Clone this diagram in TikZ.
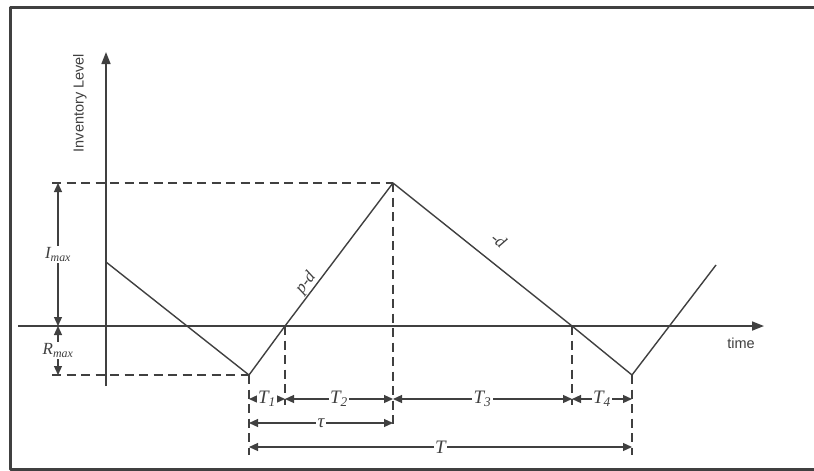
\documentclass[tikz,border=0pt]{standalone}
\usepackage{fontspec}
\setmainfont{Liberation Serif}
\newfontfamily\axisfont{Liberation Sans}
\usetikzlibrary{arrows.meta,calc,positioning}
\colorlet{invgray}{black!75}
\begin{document}
\begin{tikzpicture}[x=1pt,y=-1pt,line join=round,
      ax/.style={draw=invgray,line width=1.7pt,-{Triangle[length=12pt,width=9pt]}},
      lvl/.style={draw=invgray,line width=1.4pt},
      guide/.style={draw=invgray,line width=1.3pt,dash pattern=on 9pt off 5.5pt},
      dim/.style={draw=invgray,line width=1.2pt,{Triangle[length=9pt,width=8pt]}-{Triangle[length=9pt,width=8pt]}},
      lab/.style={font=\fontsize{19}{21}\selectfont\itshape,text=invgray,fill=white,inner sep=1.5pt},
      slope/.style={font=\fontsize{17}{19}\selectfont\itshape,text=invgray,inner sep=1pt},
      txt/.style={font=\axisfont\fontsize{14.5}{16}\selectfont,text=invgray}]
      \useasboundingbox (0,0) rectangle (814,471);
      \fill[white] (0,0) rectangle (814,471);
      \draw[invgray,line width=3pt] (10,7) rectangle (830,469);
      % axes
      \coordinate (orig) at (106,326);
      \coordinate (ytop) at (106,52);
      \coordinate (ybot) at (106,386);
      \coordinate (xleft) at (18,326);
      \coordinate (xend) at (764,326);
      \draw[ax] (ybot)--(ytop);
      \draw[ax] (xleft)--(xend);
      \node[txt,rotate=90] (ylab) at (80,103) {Inventory Level};
      \node[txt] (xlab) at (741,343) {time};
      % inventory level
      \coordinate (start) at (106,262);
      \coordinate (low1) at (249,375);
      \coordinate (cross1) at (285,326);
      \coordinate (peak) at (393,183);
      \coordinate (cross2) at (572,326);
      \coordinate (low2) at (632,375);
      \coordinate (finish) at (716,265);
      \draw[lvl] (start)--(low1)--(cross1)--(peak)--(cross2)--(low2)--(finish);
      \node[slope,rotate=53] (up) at (306,283) {p-d};
      \node[slope,rotate=-39] (down) at (499,240) {-d};
      % guide lines
      \coordinate (imaxtop) at (52,183);
      \coordinate (rmaxbot) at (52,375);
      \draw[guide] (imaxtop)--(peak);
      \draw[guide] (rmaxbot)--(low1);
      \draw[guide] (low1)--(249,455);
      \draw[guide] (cross1)--(285,405);
      \draw[guide] (peak)--(393,428);
      \draw[guide] (cross2)--(572,405);
      \draw[guide] (low2)--(632,455);
      % dimensions
      \draw[dim] (58,183)--node[lab,font=\fontsize{17}{19}\selectfont\itshape]{I\textsubscript{max}}(58,326);
      \draw[dim] (58,326)--node[lab,font=\fontsize{17}{19}\selectfont\itshape]{R\textsubscript{max}}(58,375);
      \draw[dim] (249,399)--node[lab]{T\textsubscript{1}}(285,399);
      \draw[dim] (285,399)--node[lab]{T\textsubscript{2}}(393,399);
      \draw[dim] (393,399)--node[lab]{T\textsubscript{3}}(572,399);
      \draw[dim] (572,399)--node[lab]{T\textsubscript{4}}(632,399);
      \draw[dim] (249,423)--node[lab]{τ}(393,423);
      \draw[dim] (249,447)--node[lab]{T}(632,447);
    \end{tikzpicture}
\end{document}
